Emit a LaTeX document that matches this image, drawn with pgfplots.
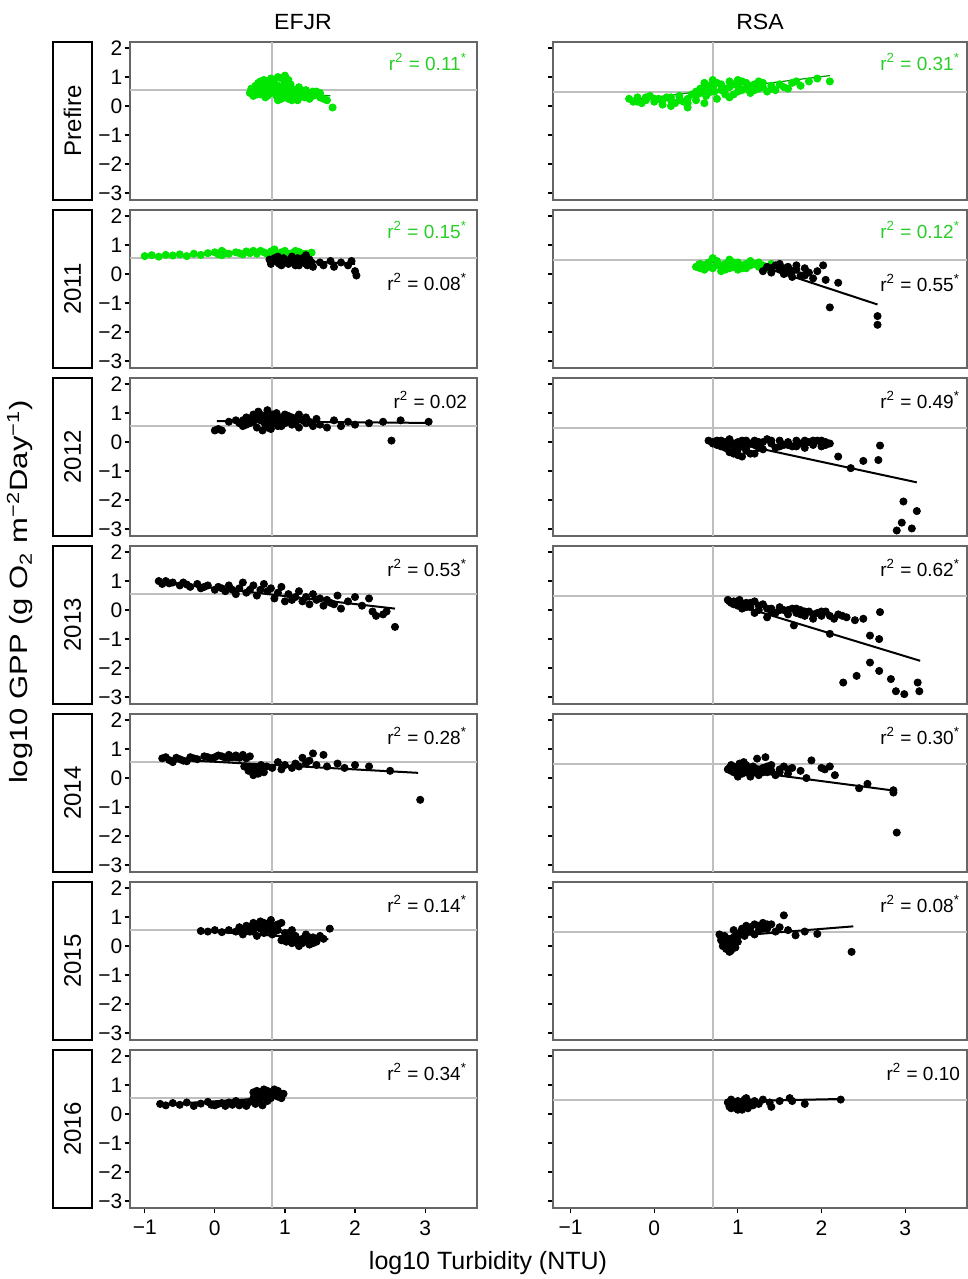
\documentclass[border=0pt]{standalone}
\usepackage{fontspec}
\setmainfont{Liberation Sans}
\usepackage{pgfplots}
\pgfplotsset{compat=1.18}
\definecolor{fgreen}{RGB}{0,230,0}
\definecolor{lgreen}{RGB}{40,205,40}
\definecolor{dgreen}{RGB}{0,150,0}
\pgfplotsset{
  panel/.style={scale only axis, height=79pt, ymin=-3.24, ymax=2.21, xmin=-1.21, xmax=3.74,
    axis line style={black!60, line width=0.7pt}, ytick={-3,-2,-1,0,1,2},
    tick style={black, line width=0.6pt}, tick align=outside, ytick pos=left, xtick pos=bottom,
    major tick length=2.7pt, clip=false, anchor=north west,
    ticklabel style={font=\fontsize{10.5}{12}\selectfont},
    yticklabel style={inner xsep=1pt}},
  L/.style={panel, width=173.5pt, yticklabels={−3,−2,−1,0,1,2}},
  R/.style={panel, width=207pt, yticklabels={}},
  inner/.style={xtick=\empty},
  bottom/.style={xtick={-1,0,1,2,3}, xticklabels={−1,0,1,2,3}},
  refline/.style={black!25, line width=1pt, forget plot},
  blk/.style={only marks, mark=*, mark size=1.8pt, black},
  grn/.style={only marks, mark=*, mark size=1.8pt, fgreen, mark options={fill=fgreen, draw=fgreen}},
  fitb/.style={black, line width=1pt, no marks},
  fitg/.style={dgreen, line width=0.6pt, no marks},
}
\newcommand{\refl}[2]{%
  \addplot[refline] coordinates {(#1,-3.24) (#1,2.21)};
  \addplot[refline] coordinates {(-1.21,#2) (3.74,#2)};}
\newcommand{\rlab}{\fontsize{9.5}{11}\selectfont}
\begin{document}
\begin{tikzpicture}[x=0.5pt,y=0.5pt]
\useasboundingbox (0,0) rectangle (968,1279);
% column titles and axis labels
\node[font=\fontsize{11}{13}\selectfont] at (303,1257) {\scalebox{1.05}[1]{EFJR}};
\node[font=\fontsize{11}{13}\selectfont] at (760,1257) {\scalebox{1.05}[1]{RSA}};
\node[font=\fontsize{12.5}{14}\selectfont, rotate=90] at (20,687) {\scalebox{1.24}[1]{log10 GPP (g O\textsubscript{2} m\textsuperscript{−2}Day\textsuperscript{−1})}};
\node[font=\fontsize{12.5}{14}\selectfont] at (488,16) {log10 Turbidity (NTU)};
% strip boxes
\foreach \t/\lab in {1237/Prefire,1069/2011,901/2012,733/2013,565/2014,397/2015,229/2016}{
  \draw[black, line width=0.8pt] (53,\t) rectangle (92,\t-158);
  \node[rotate=90, font=\fontsize{12}{14}\selectfont] at (72.5,\t-79) {\lab};
}
% ---------------- Row 1: Prefire
\begin{axis}[L, inner, at={(65pt,618.5pt)}]
\refl{0.81}{0.55}
\addplot[grn] coordinates {(0.50,0.45)(0.52,0.60)(0.55,0.35)(0.58,0.70)(0.60,0.50)(0.62,0.80)(0.65,0.40)(0.68,0.62)(0.70,0.75)(0.72,0.30)(0.75,0.55)(0.78,0.85)(0.80,0.45)(0.82,0.65)(0.85,0.90)(0.88,0.35)(0.90,0.70)(0.92,0.55)(0.95,0.95)(0.98,0.40)(1.00,1.05)(1.02,0.60)(1.05,0.25)(1.08,0.75)(1.10,0.45)(1.12,0.30)(1.15,0.55)(1.18,0.20)(1.20,0.40)(1.25,0.50)(1.28,0.30)(1.32,0.45)(1.35,0.25)(1.40,0.35)(1.45,0.50)(1.50,0.30)(1.55,0.25)(1.60,0.20)(1.68,-0.05)(0.60,0.65)(0.70,0.90)(0.85,0.75)(1.00,0.80)(0.90,0.20)(1.05,0.90)(1.20,0.65)
(0.55,0.50)(0.60,0.40)(0.65,0.55)(0.70,0.45)(0.75,0.70)(0.80,0.60)(0.85,0.50)(0.90,0.45)(0.95,0.65)(1.00,0.55)(1.05,0.45)(1.10,0.60)(1.15,0.40)(1.20,0.30)(1.25,0.35)(1.30,0.55)(0.65,0.85)(0.75,0.35)(0.95,0.25)(1.10,0.20)(1.40,0.50)(1.50,0.45)(0.80,0.95)(0.90,1.00)};
\addplot[fitg] coordinates {(0.5,0.6)(1.65,0.35)};
\end{axis}
\node[anchor=east, text=lgreen, font=\rlab] at (474,1217) {r\textsuperscript{2} = 0.11\textsuperscript{*}};
\begin{axis}[R, inner, at={(276.5pt,618.5pt)}]
\refl{0.70}{0.50}
\addplot[grn] coordinates {(-0.30,0.25)(-0.25,0.15)(-0.20,0.30)(-0.15,0.10)(-0.10,0.20)(-0.05,0.35)(0.00,0.15)(0.05,0.25)(0.10,0.05)(0.15,0.30)(0.20,0.20)(0.25,0.10)(0.30,0.35)(0.35,0.15)(0.40,0.25)(0.45,0.40)(0.50,0.20)(0.55,0.60)(0.60,0.80)(0.62,0.35)(0.65,0.70)(0.70,0.90)(0.72,0.50)(0.75,0.25)(0.80,0.75)(0.85,0.60)(0.90,0.85)(0.95,0.40)(1.00,0.70)(1.05,0.55)(1.10,0.80)(1.15,0.45)(1.20,0.75)(1.25,0.60)(1.30,0.80)(1.35,0.50)(1.40,0.70)(1.45,0.55)(1.55,0.65)(1.65,0.80)(1.75,0.70)(1.85,0.85)(2.10,0.85)(0.20,0.00)(0.40,-0.05)(0.60,0.10)(0.50,0.50)(0.90,0.30)(1.00,0.90)
(-0.20,0.15)(-0.10,0.30)(0.00,0.25)(0.10,0.20)(0.20,0.30)(0.30,0.20)(0.40,0.10)(0.50,0.35)(0.55,0.45)(0.60,0.55)(0.65,0.45)(0.70,0.65)(0.75,0.80)(0.80,0.55)(0.85,0.40)(0.90,0.65)(0.95,0.75)(1.00,0.50)(1.05,0.85)(1.10,0.60)(1.15,0.70)(1.20,0.55)(1.25,0.85)(1.30,0.65)(1.40,0.60)(1.50,0.75)(1.60,0.60)(1.70,0.85)(1.95,0.95)};
\addplot[fitg] coordinates {(-0.3,0.2)(2.1,1.05)};
\end{axis}
\node[anchor=east, text=lgreen, font=\rlab] at (967,1217) {r\textsuperscript{2} = 0.31\textsuperscript{*}};
% ---------------- Row 2: 2011
\begin{axis}[L, inner, at={(65pt,534.5pt)}]
\refl{0.81}{0.55}
\addplot[grn] coordinates {(-1.00,0.62)(-0.90,0.65)(-0.80,0.60)(-0.70,0.66)(-0.60,0.64)(-0.50,0.68)(-0.40,0.62)(-0.30,0.70)(-0.20,0.66)(-0.10,0.72)(0.00,0.75)(0.05,0.68)(0.10,0.80)(0.15,0.72)(0.20,0.70)(0.30,0.75)(0.40,0.68)(0.45,0.78)(0.50,0.72)(0.55,0.80)(0.60,0.70)(0.70,0.75)(0.75,0.68)(0.80,0.78)(0.90,0.70)(1.00,0.80)(1.10,0.72)(1.20,0.76)(1.30,0.70)(1.38,0.74)(0.85,0.85)(1.05,0.65)
(0.10,0.65)(0.35,0.72)(0.65,0.80)(0.95,0.75)(1.15,0.80)(1.25,0.70)};
\addplot[fitg] coordinates {(-1.0,0.62)(1.4,0.78)};
\addplot[blk] coordinates {(0.78,0.50)(0.80,0.35)(0.85,0.55)(0.90,0.40)(0.95,0.30)(1.00,0.50)(1.05,0.35)(1.10,0.60)(1.15,0.30)(1.20,0.45)(1.25,0.55)(1.30,0.35)(1.35,0.50)(1.40,0.25)(1.50,0.40)(1.55,0.30)(1.65,0.45)(1.70,0.25)(1.80,0.40)(1.90,0.30)(1.95,0.45)(2.00,0.10)(2.02,-0.05)(0.90,0.60)(1.10,0.45)(1.20,0.30)(0.95,0.45)(1.30,0.65)
(0.82,0.45)(0.88,0.50)(0.92,0.35)(0.98,0.55)(1.02,0.40)(1.08,0.50)(1.12,0.40)(1.18,0.55)(1.22,0.40)(1.28,0.45)(1.32,0.30)(1.38,0.40)};
\addplot[fitb] coordinates {(0.8,0.52)(2.0,0.35)};
\end{axis}
\node[anchor=east, text=lgreen, font=\rlab] at (474,1049) {r\textsuperscript{2} = 0.15\textsuperscript{*}};
\node[anchor=east, font=\rlab] at (474,997) {r\textsuperscript{2} = 0.08\textsuperscript{*}};
\begin{axis}[R, inner, at={(276.5pt,534.5pt)}]
\refl{0.70}{0.50}
\addplot[grn] coordinates {(0.50,0.25)(0.55,0.35)(0.60,0.15)(0.65,0.40)(0.70,0.20)(0.75,0.45)(0.80,0.30)(0.85,0.15)(0.90,0.50)(0.95,0.25)(1.00,0.40)(1.05,0.30)(1.10,0.20)(1.15,0.45)(1.20,0.35)(1.25,0.25)(1.30,0.30)(1.35,0.20)(1.40,0.35)(0.70,0.55)(0.60,0.30)(0.80,0.10)(1.00,0.15)
(0.55,0.20)(0.65,0.25)(0.75,0.30)(0.85,0.35)(0.95,0.40)(1.05,0.20)(1.15,0.30)(1.25,0.40)(0.90,0.20)(1.10,0.35)};
\addplot[fitg] coordinates {(0.5,0.42)(1.4,0.3)};
\addplot[blk] coordinates {(1.30,0.10)(1.35,0.25)(1.40,0.05)(1.45,0.30)(1.50,0.15)(1.55,0.00)(1.60,0.25)(1.65,0.10)(1.70,0.30)(1.75,-0.05)(1.80,0.20)(1.85,0.05)(1.90,-0.15)(1.95,0.10)(2.02,0.30)(2.05,-0.20)(2.10,-1.15)(2.20,-0.30)(2.67,-1.45)(2.67,-1.75)(1.50,0.35)(1.65,-0.10)
(1.40,0.20)(1.55,0.20)(1.60,0.05)(1.70,0.15)(1.80,-0.05)};
\addplot[fitb] coordinates {(1.3,0.25)(2.67,-1.05)};
\end{axis}
\node[anchor=east, text=lgreen, font=\rlab] at (967,1049) {r\textsuperscript{2} = 0.12\textsuperscript{*}};
\node[anchor=east, font=\rlab] at (967,996) {r\textsuperscript{2} = 0.55\textsuperscript{*}};
% ---------------- Row 3: 2012
\begin{axis}[L, inner, at={(65pt,450.5pt)}]
\refl{0.81}{0.55}
\addplot[blk] coordinates {(0.00,0.40)(0.05,0.45)(0.10,0.40)(0.20,0.70)(0.30,0.75)(0.40,0.55)(0.45,0.85)(0.50,0.65)(0.55,0.95)(0.60,0.50)(0.62,1.05)(0.65,0.75)(0.70,0.90)(0.72,0.60)(0.75,1.10)(0.78,0.80)(0.80,0.45)(0.82,0.95)(0.85,0.70)(0.88,1.00)(0.90,0.55)(0.95,0.85)(1.00,0.65)(1.05,0.90)(1.10,0.60)(1.15,0.80)(1.20,0.50)(1.25,0.75)(1.30,0.65)(1.40,0.55)(1.45,0.80)(1.50,0.60)(1.60,0.50)(1.70,0.75)(1.80,0.55)(1.90,0.70)(2.00,0.60)(2.20,0.65)(2.40,0.70)(2.52,0.05)(2.65,0.75)(3.05,0.70)(0.68,0.40)(1.20,0.95)
(0.50,0.80)(0.55,0.70)(0.60,0.85)(0.65,0.95)(0.70,0.70)(0.75,0.85)(0.80,0.65)(0.85,0.90)(0.90,0.80)(0.95,0.70)(1.00,0.95)(1.05,0.75)(1.10,0.85)(1.15,0.65)(0.45,0.60)(0.40,0.75)(0.35,0.65)(1.30,0.85)(1.35,0.70)(0.75,0.50)(0.95,0.55)};
\addplot[fitb] coordinates {(0.03,0.72)(3.07,0.66)};
\end{axis}
\node[anchor=east, font=\rlab] at (474,879) {r\textsuperscript{2} = 0.02};
\begin{axis}[R, inner, at={(276.5pt,450.5pt)}]
\refl{0.70}{0.50}
\addplot[blk] coordinates {(0.65,0.05)(0.70,0.00)(0.75,-0.10)(0.80,0.05)(0.85,-0.20)(0.90,0.10)(0.95,-0.30)(1.00,0.00)(1.05,-0.15)(1.10,0.05)(1.15,-0.40)(1.20,-0.10)(1.25,0.00)(1.30,-0.25)(1.35,0.10)(1.40,-0.05)(1.45,-0.20)(1.50,0.05)(1.55,-0.10)(1.60,0.00)(1.65,-0.15)(1.70,0.05)(1.75,-0.05)(1.80,-0.20)(1.85,0.00)(1.90,-0.10)(1.95,0.05)(2.00,-0.15)(2.05,0.00)(2.10,-0.05)(2.20,-0.50)(2.35,-0.90)(2.50,-0.65)(2.68,-0.62)(2.70,-0.12)(2.90,-3.05)(2.96,-2.78)(2.98,-2.05)(3.08,-2.98)(3.14,-2.38)(0.90,-0.35)(1.00,-0.45)(1.05,-0.50)(1.20,-0.40)
(0.70,-0.05)(0.75,0.05)(0.80,-0.15)(0.85,0.00)(0.90,-0.10)(0.95,-0.05)(1.00,-0.25)(1.05,0.05)(1.10,-0.20)(1.15,-0.05)(1.20,0.05)(1.25,-0.20)(1.30,0.00)(1.40,0.05)(1.50,-0.15)(1.60,-0.10)(1.70,-0.15)(1.80,0.05)(1.90,0.05)(2.00,0.05)(2.05,-0.10)(0.95,-0.40)(1.10,-0.30)};
\addplot[fitb] coordinates {(1.0,-0.06)(3.14,-1.39)};
\end{axis}
\node[anchor=east, font=\rlab] at (967,879) {r\textsuperscript{2} = 0.49\textsuperscript{*}};
% ---------------- Row 4: 2013
\begin{axis}[L, inner, at={(65pt,366.5pt)}]
\refl{0.81}{0.55}
\addplot[blk] coordinates {(-0.80,1.00)(-0.75,0.90)(-0.70,1.00)(-0.60,0.95)(-0.50,0.85)(-0.45,0.95)(-0.35,0.80)(-0.25,0.90)(-0.20,0.75)(-0.10,0.85)(0.00,0.70)(0.05,0.80)(0.15,0.65)(0.20,0.85)(0.30,0.55)(0.35,0.75)(0.45,0.60)(0.55,0.85)(0.60,0.50)(0.70,0.90)(0.75,0.65)(0.85,0.40)(0.90,0.60)(1.00,0.30)(1.05,0.55)(1.10,0.35)(1.20,0.65)(1.25,0.30)(1.30,0.45)(1.35,0.20)(1.40,0.55)(1.50,0.40)(1.55,0.15)(1.60,0.35)(1.70,0.20)(1.75,0.50)(1.80,0.05)(1.90,0.30)(2.00,0.45)(2.10,0.15)(2.20,0.40)(2.25,-0.05)(2.30,-0.20)(2.40,-0.15)(2.45,-0.05)(2.57,-0.58)(0.50,0.70)(0.40,0.95)(0.95,0.80)
(-0.65,0.92)(-0.40,0.88)(-0.15,0.80)(0.10,0.75)(0.25,0.70)(0.65,0.70)(0.80,0.75)(1.15,0.45)(1.45,0.35)(1.65,0.25)};
\addplot[fitb] coordinates {(-0.8,0.98)(2.57,0.05)};
\end{axis}
\node[anchor=east, font=\rlab] at (474,711) {r\textsuperscript{2} = 0.53\textsuperscript{*}};
\begin{axis}[R, inner, at={(276.5pt,366.5pt)}]
\refl{0.70}{0.50}
\addplot[blk] coordinates {(0.88,0.35)(0.92,0.25)(0.95,0.30)(1.00,0.15)(1.02,0.35)(1.05,0.05)(1.10,0.25)(1.15,0.10)(1.20,0.30)(1.25,0.00)(1.30,0.20)(1.40,0.05)(1.45,-0.10)(1.50,0.10)(1.55,0.00)(1.60,-0.15)(1.65,0.05)(1.67,-0.53)(1.70,-0.10)(1.75,0.00)(1.80,-0.20)(1.85,-0.05)(1.90,-0.30)(1.95,-0.10)(2.00,-0.20)(2.05,-0.05)(2.10,-0.82)(2.15,-0.30)(2.20,-0.15)(2.30,-0.25)(2.40,-0.35)(2.50,-0.30)(2.58,-0.88)(2.58,-1.81)(2.69,-1.00)(2.70,-0.07)(2.42,-2.27)(2.26,-2.50)(2.69,-2.10)(2.83,-2.38)(2.89,-2.80)(2.99,-2.90)(3.15,-2.50)(3.17,-2.80)(1.35,-0.25)(1.20,-0.10)
(0.90,0.30)(0.95,0.20)(1.00,0.30)(1.05,0.20)(1.10,0.10)(1.15,0.25)(1.25,0.15)(1.35,0.05)(1.40,-0.05)(1.50,0.00)(1.60,0.00)(1.70,0.05)(1.75,-0.15)(1.80,-0.05)(1.90,-0.15)(2.00,-0.05)(2.10,-0.20)(2.25,-0.20)};
\addplot[fitb] coordinates {(0.88,0.27)(3.18,-1.75)};
\end{axis}
\node[anchor=east, font=\rlab] at (967,711) {r\textsuperscript{2} = 0.62\textsuperscript{*}};
% ---------------- Row 5: 2014
\begin{axis}[L, inner, at={(65pt,282.5pt)}]
\refl{0.81}{0.55}
\addplot[blk] coordinates {(-0.75,0.68)(-0.65,0.62)(-0.55,0.70)(-0.45,0.60)(-0.35,0.72)(-0.25,0.65)(-0.15,0.75)(-0.05,0.68)(0.05,0.78)(0.15,0.70)(0.20,0.80)(0.25,0.72)(0.30,0.78)(0.35,0.70)(0.40,0.75)(0.45,0.68)(0.50,0.75)(0.42,0.40)(0.48,0.25)(0.55,0.10)(0.58,0.35)(0.62,0.15)(0.66,0.45)(0.70,0.20)(0.74,0.40)(0.82,0.35)(0.90,0.55)(0.95,0.30)(1.00,0.45)(1.10,0.35)(1.15,0.50)(1.20,0.40)(1.25,0.70)(1.30,0.50)(1.35,0.60)(1.40,0.85)(1.45,0.45)(1.55,0.80)(1.60,0.40)(1.75,0.50)(1.85,0.35)(2.00,0.45)(2.20,0.40)(2.50,0.25)(2.93,-0.75)(-0.60,0.55)(-0.40,0.58)
(-0.70,0.72)(-0.50,0.65)(-0.30,0.68)(-0.10,0.72)(0.00,0.72)(0.10,0.75)(0.20,0.70)(0.30,0.72)(0.40,0.80)(0.50,0.38)(0.55,0.30)(0.60,0.25)(0.65,0.30)(0.70,0.35)};
\addplot[fitb] coordinates {(-0.75,0.66)(2.9,0.18)};
\end{axis}
\node[anchor=east, font=\rlab] at (474,543) {r\textsuperscript{2} = 0.28\textsuperscript{*}};
\begin{axis}[R, inner, at={(276.5pt,282.5pt)}]
\refl{0.70}{0.50}
\addplot[blk] coordinates {(0.88,0.30)(0.92,0.45)(0.95,0.20)(1.00,0.35)(1.02,0.50)(1.05,0.15)(1.07,0.55)(1.10,0.30)(1.15,0.05)(1.18,0.40)(1.20,0.20)(1.23,0.67)(1.25,0.10)(1.30,0.35)(1.33,0.72)(1.35,0.20)(1.40,0.45)(1.45,0.10)(1.50,0.30)(1.55,0.40)(1.60,0.15)(1.65,0.35)(1.75,0.25)(1.82,0.00)(1.88,0.61)(2.00,0.35)(2.04,0.30)(2.10,0.40)(2.16,0.10)(2.45,-0.35)(2.55,-0.20)(2.86,-0.50)(2.86,-0.42)(2.90,-1.88)(1.00,0.05)(1.10,0.45)
(0.90,0.35)(0.95,0.40)(1.00,0.25)(1.05,0.30)(1.10,0.20)(1.15,0.30)(1.20,0.35)(1.25,0.30)(1.30,0.20)(1.40,0.25)(1.50,0.20)(1.60,0.30)(0.92,0.25)(1.35,0.40)};
\addplot[fitb] coordinates {(0.88,0.32)(2.86,-0.43)};
\end{axis}
\node[anchor=east, font=\rlab] at (967,543) {r\textsuperscript{2} = 0.30\textsuperscript{*}};
% ---------------- Row 6: 2015
\begin{axis}[L, inner, at={(65pt,198.5pt)}]
\refl{0.81}{0.55}
\addplot[blk] coordinates {(-0.20,0.52)(-0.10,0.50)(0.00,0.55)(0.10,0.48)(0.20,0.55)(0.30,0.50)(0.35,0.65)(0.40,0.40)(0.45,0.70)(0.50,0.50)(0.55,0.80)(0.60,0.35)(0.62,0.65)(0.65,0.85)(0.70,0.45)(0.72,0.75)(0.75,0.55)(0.80,0.90)(0.82,0.40)(0.85,0.70)(0.90,0.55)(0.95,0.80)(1.00,0.30)(1.02,0.15)(1.05,0.45)(1.10,0.10)(1.15,0.35)(1.20,0.00)(1.25,0.25)(1.30,0.40)(1.35,0.05)(1.40,0.30)(1.45,0.15)(1.50,0.35)(1.55,0.25)(1.64,0.60)(1.10,0.55)(0.95,0.20)
(0.50,0.65)(0.55,0.55)(0.60,0.75)(0.65,0.60)(0.70,0.80)(0.75,0.70)(0.80,0.60)(0.85,0.50)(0.90,0.75)(1.00,0.45)(1.05,0.25)(1.10,0.30)(1.15,0.15)(1.20,0.20)(1.25,0.10)(1.30,0.20)(1.35,0.30)(1.40,0.10)(0.40,0.55)};
\addplot[fitb] coordinates {(-0.2,0.52)(1.62,0.24)};
\end{axis}
\node[anchor=east, font=\rlab] at (474,375) {r\textsuperscript{2} = 0.14\textsuperscript{*}};
\begin{axis}[R, inner, at={(276.5pt,198.5pt)}]
\refl{0.70}{0.50}
\addplot[blk] coordinates {(0.78,0.40)(0.80,0.20)(0.82,0.00)(0.84,0.35)(0.86,-0.10)(0.88,0.25)(0.90,-0.20)(0.92,0.10)(0.95,0.30)(0.97,-0.05)(1.00,0.15)(1.02,0.45)(1.05,0.60)(1.08,0.35)(1.10,0.70)(1.15,0.50)(1.20,0.75)(1.25,0.55)(1.30,0.80)(1.35,0.60)(1.40,0.75)(1.45,0.50)(1.50,0.65)(1.55,1.06)(1.60,0.55)(1.69,0.37)(1.80,0.50)(1.95,0.42)(2.36,-0.20)(0.95,0.55)(1.20,0.40)
(0.80,0.30)(0.82,0.15)(0.85,0.05)(0.88,-0.05)(0.90,0.10)(0.92,-0.15)(0.95,0.00)(1.00,0.35)(1.05,0.45)(1.10,0.55)(1.15,0.65)(1.25,0.70)(1.30,0.60)(1.35,0.75)};
\addplot[fitb] coordinates {(0.78,0.31)(2.38,0.68)};
\end{axis}
\node[anchor=east, font=\rlab] at (967,375) {r\textsuperscript{2} = 0.08\textsuperscript{*}};
% ---------------- Row 7: 2016
\begin{axis}[L, bottom, at={(65pt,114.5pt)}]
\refl{0.81}{0.55}
\addplot[blk] coordinates {(-0.78,0.35)(-0.70,0.30)(-0.60,0.38)(-0.50,0.32)(-0.40,0.40)(-0.30,0.28)(-0.20,0.36)(-0.10,0.42)(0.00,0.30)(0.10,0.38)(0.15,0.28)(0.20,0.40)(0.25,0.32)(0.30,0.45)(0.35,0.30)(0.40,0.38)(0.45,0.28)(0.50,0.42)(0.55,0.75)(0.58,0.35)(0.60,0.80)(0.62,0.55)(0.65,0.70)(0.68,0.30)(0.70,0.85)(0.72,0.60)(0.75,0.45)(0.80,0.75)(0.85,0.65)(0.90,0.80)(0.95,0.55)(0.98,0.70)
(0.55,0.55)(0.60,0.65)(0.65,0.50)(0.70,0.70)(0.75,0.80)(0.80,0.55)(0.85,0.85)(0.90,0.60)(-0.05,0.32)(0.05,0.35)};
\addplot[fitb] coordinates {(-0.78,0.33)(0.98,0.58)};
\end{axis}
\node[anchor=east, font=\rlab] at (474,207) {r\textsuperscript{2} = 0.34\textsuperscript{*}};
\begin{axis}[R, bottom, at={(276.5pt,114.5pt)}]
\refl{0.70}{0.50}
\addplot[blk] coordinates {(0.88,0.40)(0.90,0.25)(0.92,0.50)(0.95,0.30)(0.98,0.20)(1.00,0.45)(1.02,0.35)(1.05,0.25)(1.08,0.50)(1.10,0.30)(1.12,0.20)(1.15,0.40)(1.18,0.30)(1.20,0.45)(1.25,0.35)(1.30,0.50)(1.38,0.40)(1.40,0.25)(1.50,0.45)(1.62,0.55)(1.65,0.45)(1.80,0.35)(2.23,0.50)(1.00,0.15)(1.10,0.55)
(0.90,0.35)(0.95,0.40)(1.00,0.30)(1.05,0.40)(1.10,0.45)(1.15,0.30)(1.20,0.35)(0.92,0.20)(1.00,0.25)(1.05,0.15)};
\addplot[fitb] coordinates {(0.88,0.44)(2.23,0.52)};
\end{axis}
\node[anchor=east, font=\rlab] at (967,207) {r\textsuperscript{2} = 0.10};
\end{tikzpicture}
\end{document}
